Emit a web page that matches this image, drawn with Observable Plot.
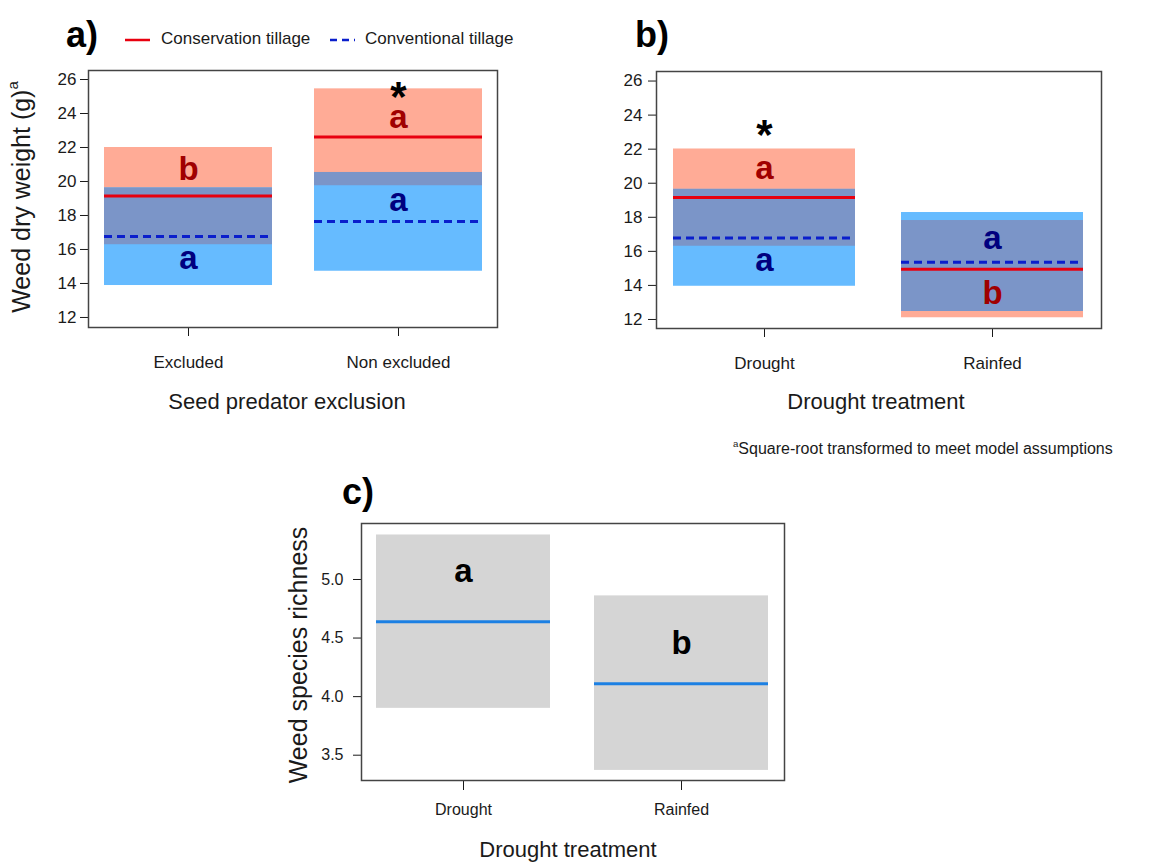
<!DOCTYPE html>
<html>
<head>
<meta charset="utf-8">
<script src="https://cdn.jsdelivr.net/npm/d3@7"></script>
<script src="https://cdn.jsdelivr.net/npm/@observablehq/plot@0.6"></script>
<style>
  html, body { margin: 0; padding: 0; background: #fff; }
  #root { position: relative; width: 1169px; height: 864px; overflow: hidden;
          font-family: "Liberation Sans", Arial, Helvetica, sans-serif; color: #1a1a1a; }
  .abs { position: absolute; white-space: nowrap; }
  .ctr { transform: translate(-50%, -50%); }
  .rot { transform: translate(-50%, -50%) rotate(-90deg); }
  .panel { font-weight: bold; font-size: 36px; color: #000; }
  .title { font-size: 22px; }
  .ytitle { font-size: 25px; }
  .leg { font-size: 17px; }
  .foot { font-size: 16px; }
  sup { font-size: 0.6em; vertical-align: 0.75em; line-height: 0; }
</style>
</head>
<body>
<div id="root"></div>
<script>
// ---------- Data: panel a (seed predator exclusion) ----------
const exclusionGroups = ["Excluded", "Non excluded"];
const consMeanA  = [19.15, 22.62];
const consLowA   = [16.28, 19.75];
const consHighA  = [22.00, 25.45];
const convMeanA  = [16.77, 17.65];
const convLowA   = [13.88, 14.72];
const convHighA  = [19.62, 20.53];
const consLetterA  = ["b", "a"];
const consLetterYA = [20.70, 23.75];
const convLetterA  = ["a", "a"];
const convLetterYA = [15.45, 18.90];
const signifA = [false, true];
const starYA  = 25.55;

// ---------- Data: panel b (drought treatment) ----------
const droughtGroups = ["Drought", "Rainfed"];
const consMeanB  = [19.16, 14.95];
const consLowB   = [16.30, 12.10];
const consHighB  = [22.01, 17.81];
const convMeanB  = [16.79, 15.36];
const convLowB   = [13.95, 12.47];
const convHighB  = [19.64, 18.28];
const consLetterB  = ["a", "b"];
const consLetterYB = [20.85, 13.55];
const convLetterB  = ["a", "a"];
const convLetterYB = [15.45, 16.75];
const signifB = [true, false];
const starYB  = 23.40;

// ---------- Data: panel c (species richness) ----------
const richGroups  = ["Drought", "Rainfed"];
const richMean    = [4.64, 4.11];
const richLow     = [3.90, 3.37];
const richHigh    = [5.38, 4.86];
const richLetter  = ["a", "b"];
const richLetterY = [5.07, 4.45];

// ---------- Tick values ----------
const weightTicks = [12, 14, 16, 18, 20, 22, 24, 26];
const richTicks   = [3.5, 4.0, 4.5, 5.0];

// ---------- Colours ----------
const C = {
  consBand: "#FFAB96", convBand: "#66BBFF", overlap: "#7B95C8",
  consLine: "#E8000F", convLine: "#0A1ECC",
  consText: "#A00000", convText: "#00007F",
  grey: "#D5D5D5", richLine: "#1C80E3"
};

const root = document.getElementById("root");
function place(node, left, top) {
  node.style.position = "absolute";
  node.style.left = left + "px";
  node.style.top = top + "px";
  root.appendChild(node);
}
function html(str, cls, left, top) {
  const d = document.createElement("div");
  d.className = "abs " + cls;
  d.innerHTML = str;
  d.style.left = left + "px";
  d.style.top = top + "px";
  root.appendChild(d);
}

function tillagePanel(groups, cm, cl, ch, vm, vl, vh, cLet, cLetY, vLet, vLetY, sig, starY, dims) {
  const rows = groups.map((g, i) => ({
    g, cm: cm[i], cl: cl[i], ch: ch[i], vm: vm[i], vl: vl[i], vh: vh[i],
    oLo: Math.max(cl[i], vl[i]), oHi: Math.min(ch[i], vh[i]),
    cLet: cLet[i], cLetY: cLetY[i], vLet: vLet[i], vLetY: vLetY[i], sig: sig[i]
  }));
  return Plot.plot({
    width: dims.width, height: dims.height,
    marginLeft: dims.ml, marginRight: dims.mr, marginTop: dims.mt, marginBottom: dims.mb,
    style: { fontSize: "17px", fontFamily: "'Liberation Sans', Arial, sans-serif", color: "#1a1a1a", background: "transparent" },
    x: { type: "band", domain: groups, paddingInner: 0.2, paddingOuter: 0.073, align: 0.5 },
    y: { domain: dims.ydomain },
    marks: [
      Plot.barY(rows, { x: "g", y1: "cl", y2: "ch", fill: C.consBand }),
      Plot.barY(rows, { x: "g", y1: "vl", y2: "vh", fill: C.convBand }),
      Plot.barY(rows.filter(d => d.oHi > d.oLo), { x: "g", y1: "oLo", y2: "oHi", fill: C.overlap }),
      Plot.tickY(rows, { x: "g", y: "cm", stroke: C.consLine, strokeWidth: 3 }),
      Plot.tickY(rows, { x: "g", y: "vm", stroke: C.convLine, strokeWidth: 3, strokeDasharray: "8,5" }),
      Plot.text(rows, { x: "g", y: "cLetY", text: "cLet", fill: C.consText, fontSize: 33, fontWeight: "bold" }),
      Plot.text(rows, { x: "g", y: "vLetY", text: "vLet", fill: C.convText, fontSize: 33, fontWeight: "bold" }),
      Plot.text(rows.filter(d => d.sig), { x: "g", y: () => starY, text: () => "*", fill: "#000", fontSize: 42, fontWeight: "bold", dy: 10 }),
      Plot.axisY(weightTicks, { tickSize: 8, tickPadding: dims.typad, label: null }),
      Plot.axisX({ tickSize: 9, tickPadding: 19, label: null }),
      Plot.frame({ stroke: "#444", strokeWidth: 1.5 })
    ]
  });
}

// Panel a
place(tillagePanel(exclusionGroups, consMeanA, consLowA, consHighA, convMeanA, convLowA, convHighA,
  consLetterA, consLetterYA, convLetterA, convLetterYA, signifA, starYA,
  { width: 510, height: 420, ml: 88, mr: 13, mt: 70, mb: 93, ydomain: [11.41, 26.53], typad: 4 }), 0, 0);

// Panel b
place(tillagePanel(droughtGroups, consMeanB, consLowB, consHighB, convMeanB, convLowB, convHighB,
  consLetterB, consLetterYB, convLetterB, convLetterYB, signifB, starYB,
  { width: 545, height: 420, ml: 86, mr: 14, mt: 71, mb: 92, ydomain: [11.47, 26.56], typad: 6 }), 570, 0);

// Panel c
const richRows = richGroups.map((g, i) => ({ g, m: richMean[i], lo: richLow[i], hi: richHigh[i], let: richLetter[i], ly: richLetterY[i] }));
place(Plot.plot({
  width: 529, height: 404, marginLeft: 91, marginRight: 15, marginTop: 63, marginBottom: 84,
  style: { fontSize: "16px", fontFamily: "'Liberation Sans', Arial, sans-serif", color: "#1a1a1a", background: "transparent" },
  x: { type: "band", domain: richGroups, paddingInner: 0.2, paddingOuter: 0.07, align: 0.5 },
  y: { domain: [3.284, 5.478] },
  marks: [
    Plot.barY(richRows, { x: "g", y1: "lo", y2: "hi", fill: C.grey }),
    Plot.tickY(richRows, { x: "g", y: "m", stroke: C.richLine, strokeWidth: 3 }),
    Plot.text(richRows, { x: "g", y: "ly", text: "let", fill: "#000", fontSize: 33, fontWeight: "bold" }),
    Plot.axisY(richTicks, { tickSize: 8, tickPadding: 10, tickFormat: d3.format(".1f"), label: null }),
    Plot.axisX({ tickSize: 10, tickPadding: 13, label: null }),
    Plot.frame({ stroke: "#444", strokeWidth: 1.5 })
  ]
}), 270, 460);

// ---------- Text decorations ----------
html("a)", "panel ctr", 82, 35);
html("b)", "panel ctr", 652, 35);
html("c)", "panel ctr", 358, 492);

// legend
const leg = document.createElementNS("http://www.w3.org/2000/svg", "svg");
leg.setAttribute("width", 240); leg.setAttribute("height", 10);
leg.innerHTML = `<line x1="0" x2="25" y1="5" y2="5" stroke="${C.consLine}" stroke-width="2.5"/>
  <line x1="205" x2="230" y1="5" y2="5" stroke="${C.convLine}" stroke-width="2.5" stroke-dasharray="7,5"/>`;
place(leg, 125, 35);
html("Conservation tillage", "leg", 161, 29);
html("Conventional tillage", "leg", 365, 29);

html("Weed dry weight (g)<sup>a</sup>", "ytitle rot", 21, 197);
html("Seed predator exclusion", "title ctr", 287, 402);
html("Drought treatment", "title ctr", 876, 402);
html("<sup>a</sup>Square-root transformed to meet model assumptions", "foot", 733, 440);

html("Weed species richness", "ytitle rot", 298, 655);
html("Drought treatment", "title ctr", 568, 850);
</script>
</body>
</html>
